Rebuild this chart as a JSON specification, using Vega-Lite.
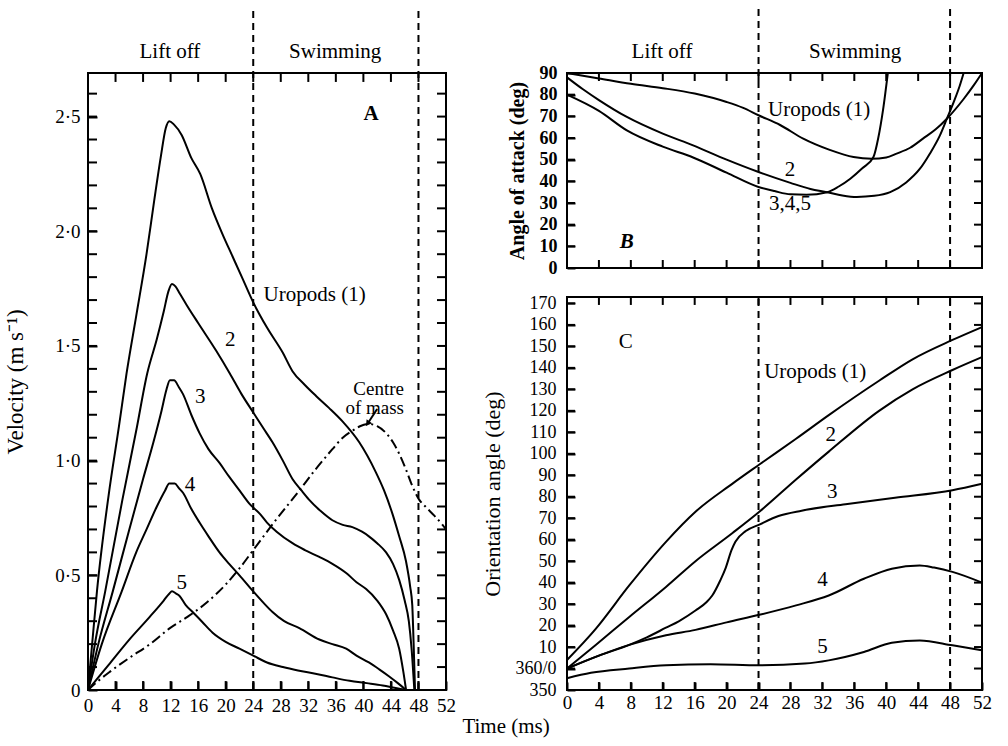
{
  "$schema": "https://vega.github.io/schema/vega-lite/v6.json",
  "background": "white",
  "padding": {"left": 3, "top": 7, "right": 10, "bottom": 6},
  "config": {
    "font": "Liberation Serif",
    "view": {"stroke": "black", "strokeWidth": 2},
    "axis": {"domain": false, "grid": false, "ticks": true, "tickColor": "#000000", "tickOpacity": 1, "tickWidth": 2, "tickSize": 8, "offset": -8, "zindex": 1, "labelColor": "black", "labelFont": "Liberation Serif", "labelFontSize": 19, "titleFont": "Liberation Serif", "titleFontSize": 21, "titleFontWeight": "normal", "titleColor": "black", "labelFlush": false, "labelOverlap": false, "labelBound": false},
    "text": {"font": "Liberation Serif", "fontSize": 21, "color": "black", "baseline": "middle"},
    "line": {"color": "black", "strokeWidth": 2},
    "rule": {"color": "black", "strokeWidth": 2}
  },
  "title": {"text": "Time (ms)", "orient": "bottom", "anchor": "middle", "font": "Liberation Serif", "fontSize": 21, "fontWeight": "normal", "color": "black", "offset": 0, "dx": 8},
  "datasets": {
    "A": [
      {"s": "1", "t": 0, "v": 0}, {"s": "1", "t": 0.6, "v": 0.2}, {"s": "1", "t": 1.3, "v": 0.43}, {"s": "1", "t": 3, "v": 0.85}, {"s": "1", "t": 4.5, "v": 1.15}, {"s": "1", "t": 5.6, "v": 1.38}, {"s": "1", "t": 7, "v": 1.63}, {"s": "1", "t": 8.5, "v": 1.9}, {"s": "1", "t": 9.6, "v": 2.13}, {"s": "1", "t": 10.6, "v": 2.33}, {"s": "1", "t": 11.3, "v": 2.45}, {"s": "1", "t": 11.8, "v": 2.48}, {"s": "1", "t": 12.5, "v": 2.465}, {"s": "1", "t": 13.6, "v": 2.42}, {"s": "1", "t": 15, "v": 2.32}, {"s": "1", "t": 16.3, "v": 2.25}, {"s": "1", "t": 18, "v": 2.1}, {"s": "1", "t": 19.5, "v": 1.99}, {"s": "1", "t": 21, "v": 1.89}, {"s": "1", "t": 22.5, "v": 1.79}, {"s": "1", "t": 24, "v": 1.69}, {"s": "1", "t": 26, "v": 1.58}, {"s": "1", "t": 28.3, "v": 1.47}, {"s": "1", "t": 29.7, "v": 1.39}, {"s": "1", "t": 31.5, "v": 1.33}, {"s": "1", "t": 33.2, "v": 1.28}, {"s": "1", "t": 35, "v": 1.23}, {"s": "1", "t": 37, "v": 1.17}, {"s": "1", "t": 39.4, "v": 1.08}, {"s": "1", "t": 41.8, "v": 0.95}, {"s": "1", "t": 43, "v": 0.87}, {"s": "1", "t": 44.2, "v": 0.77}, {"s": "1", "t": 45.2, "v": 0.67}, {"s": "1", "t": 46.2, "v": 0.56}, {"s": "1", "t": 46.8, "v": 0.45}, {"s": "1", "t": 47.1, "v": 0.37}, {"s": "1", "t": 47.3, "v": 0.2}, {"s": "1", "t": 47.5, "v": 0},
      {"s": "2", "t": 0, "v": 0}, {"s": "2", "t": 1, "v": 0.2}, {"s": "2", "t": 2.5, "v": 0.43}, {"s": "2", "t": 5, "v": 0.83}, {"s": "2", "t": 7, "v": 1.13}, {"s": "2", "t": 8.6, "v": 1.38}, {"s": "2", "t": 10, "v": 1.53}, {"s": "2", "t": 11, "v": 1.65}, {"s": "2", "t": 11.7, "v": 1.74}, {"s": "2", "t": 12.2, "v": 1.77}, {"s": "2", "t": 12.7, "v": 1.76}, {"s": "2", "t": 13.3, "v": 1.73}, {"s": "2", "t": 14.3, "v": 1.68}, {"s": "2", "t": 16, "v": 1.6}, {"s": "2", "t": 18.6, "v": 1.48}, {"s": "2", "t": 20.6, "v": 1.38}, {"s": "2", "t": 22.3, "v": 1.29}, {"s": "2", "t": 24, "v": 1.21}, {"s": "2", "t": 25.5, "v": 1.14}, {"s": "2", "t": 26.8, "v": 1.08}, {"s": "2", "t": 28.3, "v": 1.0}, {"s": "2", "t": 29.7, "v": 0.92}, {"s": "2", "t": 31, "v": 0.87}, {"s": "2", "t": 32.1, "v": 0.83}, {"s": "2", "t": 33.8, "v": 0.78}, {"s": "2", "t": 35.5, "v": 0.74}, {"s": "2", "t": 37, "v": 0.72}, {"s": "2", "t": 38.4, "v": 0.71}, {"s": "2", "t": 39.8, "v": 0.69}, {"s": "2", "t": 40.8, "v": 0.67}, {"s": "2", "t": 42, "v": 0.64}, {"s": "2", "t": 43.3, "v": 0.6}, {"s": "2", "t": 44.3, "v": 0.55}, {"s": "2", "t": 45.2, "v": 0.48}, {"s": "2", "t": 46, "v": 0.39}, {"s": "2", "t": 46.6, "v": 0.3}, {"s": "2", "t": 47, "v": 0.18}, {"s": "2", "t": 47.4, "v": 0},
      {"s": "3", "t": 0, "v": 0}, {"s": "3", "t": 1.5, "v": 0.2}, {"s": "3", "t": 3.6, "v": 0.43}, {"s": "3", "t": 6, "v": 0.7}, {"s": "3", "t": 8, "v": 0.92}, {"s": "3", "t": 9.5, "v": 1.08}, {"s": "3", "t": 10.7, "v": 1.22}, {"s": "3", "t": 11.4, "v": 1.31}, {"s": "3", "t": 11.9, "v": 1.35}, {"s": "3", "t": 12.5, "v": 1.35}, {"s": "3", "t": 13.2, "v": 1.32}, {"s": "3", "t": 13.8, "v": 1.29}, {"s": "3", "t": 15, "v": 1.2}, {"s": "3", "t": 16.2, "v": 1.12}, {"s": "3", "t": 17.5, "v": 1.05}, {"s": "3", "t": 19.1, "v": 0.99}, {"s": "3", "t": 20.5, "v": 0.93}, {"s": "3", "t": 22, "v": 0.87}, {"s": "3", "t": 23.5, "v": 0.81}, {"s": "3", "t": 24.9, "v": 0.77}, {"s": "3", "t": 26, "v": 0.73}, {"s": "3", "t": 27.4, "v": 0.69}, {"s": "3", "t": 29.7, "v": 0.64}, {"s": "3", "t": 31.5, "v": 0.61}, {"s": "3", "t": 33.6, "v": 0.58}, {"s": "3", "t": 35.5, "v": 0.55}, {"s": "3", "t": 37.5, "v": 0.51}, {"s": "3", "t": 39, "v": 0.47}, {"s": "3", "t": 40.4, "v": 0.44}, {"s": "3", "t": 42, "v": 0.39}, {"s": "3", "t": 43.3, "v": 0.33}, {"s": "3", "t": 44.3, "v": 0.26}, {"s": "3", "t": 45.2, "v": 0.18}, {"s": "3", "t": 45.8, "v": 0.08}, {"s": "3", "t": 46.2, "v": 0},
      {"s": "4", "t": 0, "v": 0}, {"s": "4", "t": 2, "v": 0.2}, {"s": "4", "t": 4.9, "v": 0.43}, {"s": "4", "t": 7, "v": 0.6}, {"s": "4", "t": 8.5, "v": 0.7}, {"s": "4", "t": 10, "v": 0.8}, {"s": "4", "t": 11.2, "v": 0.87}, {"s": "4", "t": 11.8, "v": 0.9}, {"s": "4", "t": 12.6, "v": 0.9}, {"s": "4", "t": 13.2, "v": 0.88}, {"s": "4", "t": 13.8, "v": 0.86}, {"s": "4", "t": 15, "v": 0.79}, {"s": "4", "t": 16.2, "v": 0.73}, {"s": "4", "t": 17.5, "v": 0.67}, {"s": "4", "t": 19.1, "v": 0.6}, {"s": "4", "t": 20.5, "v": 0.55}, {"s": "4", "t": 22, "v": 0.5}, {"s": "4", "t": 24, "v": 0.43}, {"s": "4", "t": 25.5, "v": 0.38}, {"s": "4", "t": 26.8, "v": 0.34}, {"s": "4", "t": 28.5, "v": 0.3}, {"s": "4", "t": 30.7, "v": 0.27}, {"s": "4", "t": 33.6, "v": 0.22}, {"s": "4", "t": 35.5, "v": 0.2}, {"s": "4", "t": 37.5, "v": 0.18}, {"s": "4", "t": 39, "v": 0.15}, {"s": "4", "t": 40.8, "v": 0.12}, {"s": "4", "t": 42.3, "v": 0.09}, {"s": "4", "t": 43.7, "v": 0.06}, {"s": "4", "t": 45, "v": 0.03}, {"s": "4", "t": 46.2, "v": 0},
      {"s": "5", "t": 0, "v": 0}, {"s": "5", "t": 3, "v": 0.11}, {"s": "5", "t": 6, "v": 0.22}, {"s": "5", "t": 9, "v": 0.32}, {"s": "5", "t": 11, "v": 0.39}, {"s": "5", "t": 11.8, "v": 0.42}, {"s": "5", "t": 12.2, "v": 0.43}, {"s": "5", "t": 12.8, "v": 0.42}, {"s": "5", "t": 13.3, "v": 0.41}, {"s": "5", "t": 14.2, "v": 0.37}, {"s": "5", "t": 15.2, "v": 0.34}, {"s": "5", "t": 16.5, "v": 0.3}, {"s": "5", "t": 18.1, "v": 0.25}, {"s": "5", "t": 20, "v": 0.21}, {"s": "5", "t": 22, "v": 0.18}, {"s": "5", "t": 24, "v": 0.15}, {"s": "5", "t": 26, "v": 0.12}, {"s": "5", "t": 28.3, "v": 0.1}, {"s": "5", "t": 30.5, "v": 0.085}, {"s": "5", "t": 33.2, "v": 0.07}, {"s": "5", "t": 35.5, "v": 0.055}, {"s": "5", "t": 38, "v": 0.04}, {"s": "5", "t": 40.5, "v": 0.03}, {"s": "5", "t": 42.8, "v": 0.02}, {"s": "5", "t": 44.5, "v": 0.01}, {"s": "5", "t": 46.2, "v": 0},
      {"s": "cm", "t": 0, "v": 0}, {"s": "cm", "t": 1.3, "v": 0.035}, {"s": "cm", "t": 3.2, "v": 0.08}, {"s": "cm", "t": 6, "v": 0.14}, {"s": "cm", "t": 9, "v": 0.2}, {"s": "cm", "t": 11.9, "v": 0.27}, {"s": "cm", "t": 14.5, "v": 0.32}, {"s": "cm", "t": 17.2, "v": 0.38}, {"s": "cm", "t": 20, "v": 0.46}, {"s": "cm", "t": 22, "v": 0.53}, {"s": "cm", "t": 24, "v": 0.61}, {"s": "cm", "t": 27, "v": 0.73}, {"s": "cm", "t": 30.7, "v": 0.87}, {"s": "cm", "t": 33, "v": 0.96}, {"s": "cm", "t": 35.5, "v": 1.05}, {"s": "cm", "t": 37, "v": 1.1}, {"s": "cm", "t": 38.4, "v": 1.13}, {"s": "cm", "t": 39.5, "v": 1.15}, {"s": "cm", "t": 40.8, "v": 1.16}, {"s": "cm", "t": 42, "v": 1.15}, {"s": "cm", "t": 43.3, "v": 1.12}, {"s": "cm", "t": 44.3, "v": 1.08}, {"s": "cm", "t": 45.2, "v": 1.03}, {"s": "cm", "t": 46.2, "v": 0.96}, {"s": "cm", "t": 47.1, "v": 0.89}, {"s": "cm", "t": 48.1, "v": 0.83}, {"s": "cm", "t": 49, "v": 0.8}, {"s": "cm", "t": 50.3, "v": 0.76}, {"s": "cm", "t": 51.5, "v": 0.72}, {"s": "cm", "t": 52, "v": 0.7}
    ],
    "B": [
      {"s": "1", "t": 0, "a": 90}, {"s": "1", "t": 4, "a": 87.5}, {"s": "1", "t": 8, "a": 85}, {"s": "1", "t": 12, "a": 83}, {"s": "1", "t": 16, "a": 80.5}, {"s": "1", "t": 20, "a": 76.6}, {"s": "1", "t": 22, "a": 74}, {"s": "1", "t": 24, "a": 70.5}, {"s": "1", "t": 26.7, "a": 66}, {"s": "1", "t": 29.6, "a": 59.7}, {"s": "1", "t": 33, "a": 54.4}, {"s": "1", "t": 35.9, "a": 51.2}, {"s": "1", "t": 38.2, "a": 50.4}, {"s": "1", "t": 40, "a": 51}, {"s": "1", "t": 41.3, "a": 52.8}, {"s": "1", "t": 43, "a": 55.5}, {"s": "1", "t": 44.6, "a": 59.7}, {"s": "1", "t": 46.2, "a": 64}, {"s": "1", "t": 47.6, "a": 68.9}, {"s": "1", "t": 49.7, "a": 78}, {"s": "1", "t": 51, "a": 84.5}, {"s": "1", "t": 52, "a": 90},
      {"s": "2", "t": 0, "a": 88}, {"s": "2", "t": 2, "a": 82.5}, {"s": "2", "t": 4, "a": 77.5}, {"s": "2", "t": 7.5, "a": 69.7}, {"s": "2", "t": 12, "a": 62}, {"s": "2", "t": 15.8, "a": 56.6}, {"s": "2", "t": 20, "a": 50}, {"s": "2", "t": 24, "a": 44.3}, {"s": "2", "t": 28, "a": 39.3}, {"s": "2", "t": 30.5, "a": 36.5}, {"s": "2", "t": 32.6, "a": 35}, {"s": "2", "t": 34.5, "a": 33.5}, {"s": "2", "t": 36.3, "a": 32.8}, {"s": "2", "t": 38.5, "a": 33.3}, {"s": "2", "t": 40.5, "a": 35}, {"s": "2", "t": 42.5, "a": 39.5}, {"s": "2", "t": 44.2, "a": 45.7}, {"s": "2", "t": 45.5, "a": 53}, {"s": "2", "t": 46.7, "a": 61}, {"s": "2", "t": 47.6, "a": 68.9}, {"s": "2", "t": 48.5, "a": 77}, {"s": "2", "t": 49.2, "a": 84}, {"s": "2", "t": 49.7, "a": 90},
      {"s": "345", "t": 0, "a": 80}, {"s": "345", "t": 4, "a": 72.5}, {"s": "345", "t": 7.5, "a": 63.5}, {"s": "345", "t": 12, "a": 56}, {"s": "345", "t": 15.8, "a": 51}, {"s": "345", "t": 20, "a": 44}, {"s": "345", "t": 24, "a": 37.4}, {"s": "345", "t": 26, "a": 35.5}, {"s": "345", "t": 28, "a": 34}, {"s": "345", "t": 30, "a": 33.8}, {"s": "345", "t": 32.6, "a": 35}, {"s": "345", "t": 34, "a": 37.5}, {"s": "345", "t": 35.5, "a": 41.2}, {"s": "345", "t": 37, "a": 46}, {"s": "345", "t": 38.4, "a": 51.2}, {"s": "345", "t": 39, "a": 60}, {"s": "345", "t": 39.6, "a": 73}, {"s": "345", "t": 40.2, "a": 90}
    ],
    "C": [
      {"s": "1", "t": 0, "a": 4}, {"s": "1", "t": 3.6, "a": 18.5}, {"s": "1", "t": 7.8, "a": 38.7}, {"s": "1", "t": 12.4, "a": 59}, {"s": "1", "t": 16.1, "a": 73}, {"s": "1", "t": 20.7, "a": 86}, {"s": "1", "t": 24.1, "a": 95}, {"s": "1", "t": 28.7, "a": 107}, {"s": "1", "t": 32.8, "a": 118}, {"s": "1", "t": 39.1, "a": 134}, {"s": "1", "t": 43.3, "a": 144}, {"s": "1", "t": 48.3, "a": 153}, {"s": "1", "t": 52, "a": 159},
      {"s": "2", "t": 0, "a": 0}, {"s": "2", "t": 3.6, "a": 11}, {"s": "2", "t": 7.8, "a": 24}, {"s": "2", "t": 12.4, "a": 38}, {"s": "2", "t": 16.1, "a": 50}, {"s": "2", "t": 20.7, "a": 63}, {"s": "2", "t": 24.1, "a": 73}, {"s": "2", "t": 28.7, "a": 88}, {"s": "2", "t": 32.8, "a": 101}, {"s": "2", "t": 39.1, "a": 120}, {"s": "2", "t": 43.3, "a": 130}, {"s": "2", "t": 48.3, "a": 139}, {"s": "2", "t": 52, "a": 145},
      {"s": "3", "t": 0, "a": 0}, {"s": "3", "t": 4, "a": 6}, {"s": "3", "t": 7.8, "a": 11}, {"s": "3", "t": 10, "a": 14.5}, {"s": "3", "t": 12.4, "a": 19}, {"s": "3", "t": 14, "a": 22}, {"s": "3", "t": 16.1, "a": 27}, {"s": "3", "t": 17.5, "a": 31}, {"s": "3", "t": 18.2, "a": 34}, {"s": "3", "t": 19.2, "a": 41}, {"s": "3", "t": 19.9, "a": 47}, {"s": "3", "t": 20.6, "a": 55}, {"s": "3", "t": 21.1, "a": 59}, {"s": "3", "t": 22.4, "a": 64}, {"s": "3", "t": 24.1, "a": 67}, {"s": "3", "t": 26.5, "a": 71}, {"s": "3", "t": 29.4, "a": 73.5}, {"s": "3", "t": 34.9, "a": 76.5}, {"s": "3", "t": 41.1, "a": 79.5}, {"s": "3", "t": 48.3, "a": 83}, {"s": "3", "t": 52, "a": 86},
      {"s": "4", "t": 0, "a": 0}, {"s": "4", "t": 4, "a": 6}, {"s": "4", "t": 7.8, "a": 11}, {"s": "4", "t": 12.4, "a": 15.5}, {"s": "4", "t": 16.1, "a": 18}, {"s": "4", "t": 20, "a": 21.5}, {"s": "4", "t": 24.1, "a": 25}, {"s": "4", "t": 28.7, "a": 29.4}, {"s": "4", "t": 32.8, "a": 34}, {"s": "4", "t": 37.2, "a": 41.8}, {"s": "4", "t": 40.7, "a": 46.5}, {"s": "4", "t": 44.2, "a": 48}, {"s": "4", "t": 46, "a": 47}, {"s": "4", "t": 48.3, "a": 45}, {"s": "4", "t": 52, "a": 40},
      {"s": "5", "t": 0, "a": -4.5}, {"s": "5", "t": 3, "a": -2}, {"s": "5", "t": 7.8, "a": 0}, {"s": "5", "t": 12.4, "a": 1.5}, {"s": "5", "t": 18, "a": 2}, {"s": "5", "t": 24.1, "a": 1.5}, {"s": "5", "t": 29.8, "a": 2.3}, {"s": "5", "t": 32.8, "a": 3.8}, {"s": "5", "t": 37.2, "a": 7.7}, {"s": "5", "t": 40.7, "a": 12}, {"s": "5", "t": 44.2, "a": 13.1}, {"s": "5", "t": 48.3, "a": 10.8}, {"s": "5", "t": 52, "a": 8.5}
    ],
    "tickAx": [
      {"t": 4, "y1": 0, "y2": 0.039}, {"t": 8, "y1": 0, "y2": 0.039}, {"t": 12, "y1": 0, "y2": 0.039}, {"t": 16, "y1": 0, "y2": 0.039}, {"t": 20, "y1": 0, "y2": 0.039}, {"t": 24, "y1": 0, "y2": 0.039}, {"t": 28, "y1": 0, "y2": 0.039}, {"t": 32, "y1": 0, "y2": 0.039}, {"t": 36, "y1": 0, "y2": 0.039}, {"t": 40, "y1": 0, "y2": 0.039}, {"t": 44, "y1": 0, "y2": 0.039}, {"t": 48, "y1": 0, "y2": 0.039},
      {"t": 4, "y1": 2.69, "y2": 2.651}, {"t": 8, "y1": 2.69, "y2": 2.651}, {"t": 12, "y1": 2.69, "y2": 2.651}, {"t": 16, "y1": 2.69, "y2": 2.651}, {"t": 20, "y1": 2.69, "y2": 2.651}, {"t": 24, "y1": 2.69, "y2": 2.651}, {"t": 28, "y1": 2.69, "y2": 2.651}, {"t": 32, "y1": 2.69, "y2": 2.651}, {"t": 36, "y1": 2.69, "y2": 2.651}, {"t": 40, "y1": 2.69, "y2": 2.651}, {"t": 44, "y1": 2.69, "y2": 2.651}, {"t": 48, "y1": 2.69, "y2": 2.651}
    ],
    "tickAy": [
      {"v": 0.1, "x1": 0, "x2": 1.31}, {"v": 0.2, "x1": 0, "x2": 1.31}, {"v": 0.3, "x1": 0, "x2": 1.31}, {"v": 0.4, "x1": 0, "x2": 1.31}, {"v": 0.5, "x1": 0, "x2": 1.31}, {"v": 0.6, "x1": 0, "x2": 1.31}, {"v": 0.7, "x1": 0, "x2": 1.31}, {"v": 0.8, "x1": 0, "x2": 1.31}, {"v": 0.9, "x1": 0, "x2": 1.31}, {"v": 1.0, "x1": 0, "x2": 1.31}, {"v": 1.1, "x1": 0, "x2": 1.31}, {"v": 1.2, "x1": 0, "x2": 1.31}, {"v": 1.3, "x1": 0, "x2": 1.31}, {"v": 1.4, "x1": 0, "x2": 1.31}, {"v": 1.5, "x1": 0, "x2": 1.31}, {"v": 1.6, "x1": 0, "x2": 1.31}, {"v": 1.7, "x1": 0, "x2": 1.31}, {"v": 1.8, "x1": 0, "x2": 1.31}, {"v": 1.9, "x1": 0, "x2": 1.31}, {"v": 2.0, "x1": 0, "x2": 1.31}, {"v": 2.1, "x1": 0, "x2": 1.31}, {"v": 2.2, "x1": 0, "x2": 1.31}, {"v": 2.3, "x1": 0, "x2": 1.31}, {"v": 2.4, "x1": 0, "x2": 1.31}, {"v": 2.5, "x1": 0, "x2": 1.31}, {"v": 2.6, "x1": 0, "x2": 1.31},
      {"v": 0.1, "x1": 52, "x2": 50.69}, {"v": 0.2, "x1": 52, "x2": 50.69}, {"v": 0.3, "x1": 52, "x2": 50.69}, {"v": 0.4, "x1": 52, "x2": 50.69}, {"v": 0.5, "x1": 52, "x2": 50.69}, {"v": 0.6, "x1": 52, "x2": 50.69}, {"v": 0.7, "x1": 52, "x2": 50.69}, {"v": 0.8, "x1": 52, "x2": 50.69}, {"v": 0.9, "x1": 52, "x2": 50.69}, {"v": 1.0, "x1": 52, "x2": 50.69}, {"v": 1.1, "x1": 52, "x2": 50.69}, {"v": 1.2, "x1": 52, "x2": 50.69}, {"v": 1.3, "x1": 52, "x2": 50.69}, {"v": 1.4, "x1": 52, "x2": 50.69}, {"v": 1.5, "x1": 52, "x2": 50.69}, {"v": 1.6, "x1": 52, "x2": 50.69}, {"v": 1.7, "x1": 52, "x2": 50.69}, {"v": 1.8, "x1": 52, "x2": 50.69}, {"v": 1.9, "x1": 52, "x2": 50.69}, {"v": 2.0, "x1": 52, "x2": 50.69}, {"v": 2.1, "x1": 52, "x2": 50.69}, {"v": 2.2, "x1": 52, "x2": 50.69}, {"v": 2.3, "x1": 52, "x2": 50.69}, {"v": 2.4, "x1": 52, "x2": 50.69}, {"v": 2.5, "x1": 52, "x2": 50.69}, {"v": 2.6, "x1": 52, "x2": 50.69}
    ],
    "tickBx": [
      {"t": 4, "y1": 0, "y2": 3.7}, {"t": 8, "y1": 0, "y2": 3.7}, {"t": 12, "y1": 0, "y2": 3.7}, {"t": 16, "y1": 0, "y2": 3.7}, {"t": 20, "y1": 0, "y2": 3.7}, {"t": 24, "y1": 0, "y2": 3.7}, {"t": 28, "y1": 0, "y2": 3.7}, {"t": 32, "y1": 0, "y2": 3.7}, {"t": 36, "y1": 0, "y2": 3.7}, {"t": 40, "y1": 0, "y2": 3.7}, {"t": 44, "y1": 0, "y2": 3.7}, {"t": 48, "y1": 0, "y2": 3.7},
      {"t": 4, "y1": 90, "y2": 86.3}, {"t": 8, "y1": 90, "y2": 86.3}, {"t": 12, "y1": 90, "y2": 86.3}, {"t": 16, "y1": 90, "y2": 86.3}, {"t": 20, "y1": 90, "y2": 86.3}, {"t": 24, "y1": 90, "y2": 86.3}, {"t": 28, "y1": 90, "y2": 86.3}, {"t": 32, "y1": 90, "y2": 86.3}, {"t": 36, "y1": 90, "y2": 86.3}, {"t": 40, "y1": 90, "y2": 86.3}, {"t": 44, "y1": 90, "y2": 86.3}, {"t": 48, "y1": 90, "y2": 86.3}
    ],
    "tickBy": [
      {"a": 10, "x1": 0, "x2": 1}, {"a": 20, "x1": 0, "x2": 1}, {"a": 30, "x1": 0, "x2": 1}, {"a": 40, "x1": 0, "x2": 1}, {"a": 50, "x1": 0, "x2": 1}, {"a": 60, "x1": 0, "x2": 1}, {"a": 70, "x1": 0, "x2": 1}, {"a": 80, "x1": 0, "x2": 1},
      {"a": 10, "x1": 52, "x2": 51}, {"a": 20, "x1": 52, "x2": 51}, {"a": 30, "x1": 52, "x2": 51}, {"a": 40, "x1": 52, "x2": 51}, {"a": 50, "x1": 52, "x2": 51}, {"a": 60, "x1": 52, "x2": 51}, {"a": 70, "x1": 52, "x2": 51}, {"a": 80, "x1": 52, "x2": 51}
    ],
    "tickCx": [
      {"t": 4, "y1": -10, "y2": -6.3}, {"t": 8, "y1": -10, "y2": -6.3}, {"t": 12, "y1": -10, "y2": -6.3}, {"t": 16, "y1": -10, "y2": -6.3}, {"t": 20, "y1": -10, "y2": -6.3}, {"t": 24, "y1": -10, "y2": -6.3}, {"t": 28, "y1": -10, "y2": -6.3}, {"t": 32, "y1": -10, "y2": -6.3}, {"t": 36, "y1": -10, "y2": -6.3}, {"t": 40, "y1": -10, "y2": -6.3}, {"t": 44, "y1": -10, "y2": -6.3}, {"t": 48, "y1": -10, "y2": -6.3},
      {"t": 4, "y1": 173, "y2": 169.3}, {"t": 8, "y1": 173, "y2": 169.3}, {"t": 12, "y1": 173, "y2": 169.3}, {"t": 16, "y1": 173, "y2": 169.3}, {"t": 20, "y1": 173, "y2": 169.3}, {"t": 24, "y1": 173, "y2": 169.3}, {"t": 28, "y1": 173, "y2": 169.3}, {"t": 32, "y1": 173, "y2": 169.3}, {"t": 36, "y1": 173, "y2": 169.3}, {"t": 40, "y1": 173, "y2": 169.3}, {"t": 44, "y1": 173, "y2": 169.3}, {"t": 48, "y1": 173, "y2": 169.3}
    ],
    "tickCy": [
      {"a": 0, "x1": 0, "x2": 1}, {"a": 10, "x1": 0, "x2": 1}, {"a": 20, "x1": 0, "x2": 1}, {"a": 30, "x1": 0, "x2": 1}, {"a": 40, "x1": 0, "x2": 1}, {"a": 50, "x1": 0, "x2": 1}, {"a": 60, "x1": 0, "x2": 1}, {"a": 70, "x1": 0, "x2": 1}, {"a": 80, "x1": 0, "x2": 1}, {"a": 90, "x1": 0, "x2": 1}, {"a": 100, "x1": 0, "x2": 1}, {"a": 110, "x1": 0, "x2": 1}, {"a": 120, "x1": 0, "x2": 1}, {"a": 130, "x1": 0, "x2": 1}, {"a": 140, "x1": 0, "x2": 1}, {"a": 150, "x1": 0, "x2": 1}, {"a": 160, "x1": 0, "x2": 1}, {"a": 170, "x1": 0, "x2": 1},
      {"a": 0, "x1": 52, "x2": 51}, {"a": 10, "x1": 52, "x2": 51}, {"a": 20, "x1": 52, "x2": 51}, {"a": 30, "x1": 52, "x2": 51}, {"a": 40, "x1": 52, "x2": 51}, {"a": 50, "x1": 52, "x2": 51}, {"a": 60, "x1": 52, "x2": 51}, {"a": 70, "x1": 52, "x2": 51}, {"a": 80, "x1": 52, "x2": 51}, {"a": 90, "x1": 52, "x2": 51}, {"a": 100, "x1": 52, "x2": 51}, {"a": 110, "x1": 52, "x2": 51}, {"a": 120, "x1": 52, "x2": 51}, {"a": 130, "x1": 52, "x2": 51}, {"a": 140, "x1": 52, "x2": 51}, {"a": 150, "x1": 52, "x2": 51}, {"a": 160, "x1": 52, "x2": 51}, {"a": 170, "x1": 52, "x2": 51}
    ],
    "dashA": [{"t": 24, "y1": 0, "y2": 2.969}, {"t": 48, "y1": 0, "y2": 2.969}],
    "dashB": [{"t": 24, "y1": 0, "y2": 119.5}, {"t": 48, "y1": 0, "y2": 119.5}],
    "dashC": [{"t": 24, "y1": -10, "y2": 173}, {"t": 48, "y1": -10, "y2": 173}],
    "labA": [{"t": 11.9, "v": 2.781, "txt": "Lift off"}, {"t": 35.9, "v": 2.781, "txt": "Swimming"}, {"t": 20.65, "v": 1.524, "txt": "2"}, {"t": 16.3, "v": 1.277, "txt": "3"}, {"t": 14.8, "v": 0.892, "txt": "4"}, {"t": 13.6, "v": 0.468, "txt": "5"}],
    "labAleft": [{"t": 25.5, "v": 1.72, "txt": "Uropods (1)"}],
    "labAright": [{"t": 45.9, "v": 1.312, "txt": ["Centre", "of mass"]}],
    "labAbold": [{"t": 41.1, "v": 2.512, "txt": "A"}],
    "arrowA": [{"t": 42, "v": 1.225, "t2": 40.7, "v2": 1.165}],
    "labB": [{"t": 11.9, "a": 99.7, "txt": "Lift off"}, {"t": 36.1, "a": 99.7, "txt": "Swimming"}, {"t": 27.95, "a": 45.1, "txt": "2"}, {"t": 27.95, "a": 29.7, "txt": "3,4,5"}],
    "labBleft": [{"t": 25.2, "a": 72.8, "txt": "Uropods (1)"}],
    "labBbold": [{"t": 7.5, "a": 12, "txt": "B"}],
    "labC": [{"t": 7.36, "a": 152, "txt": "C"}, {"t": 33.05, "a": 108.6, "txt": "2"}, {"t": 33.25, "a": 82.2, "txt": "3"}, {"t": 32, "a": 41.1, "txt": "4"}, {"t": 32, "a": 10, "txt": "5"}],
    "labCleft": [{"t": 24.7, "a": 138.1, "txt": "Uropods (1)"}]
  },
  "bounds": "flush",
  "spacing": 121,
  "hconcat": [
    {
      "width": 358,
      "height": 617,
      "resolve": {"axis": {"x": "independent", "y": "independent"}},
      "layer": [
        {
          "data": {"name": "A"},
          "transform": [{"filter": "datum.s != 'cm'"}],
          "mark": {"type": "line", "interpolate": "monotone", "strokeWidth": 2, "color": "black"},
          "encoding": {
            "x": {"field": "t", "type": "quantitative", "scale": {"domain": [0, 52], "nice": false, "zero": false}, "axis": {"orient": "bottom", "values": [0, 4, 8, 12, 16, 20, 24, 28, 32, 36, 40, 44, 48, 52], "format": "d", "title": null, "labelOverlap": false, "offset": -9, "tickSize": 9, "labelPadding": 6}},
            "y": {"field": "v", "type": "quantitative", "scale": {"domain": [0, 2.69], "nice": false, "zero": false}, "axis": {"orient": "left", "values": [0, 0.5, 1, 1.5, 2, 2.5], "labelExpr": "datum.value == 0 ? '0' : replace(format(datum.value, '.1f'), '.', '·')", "labelOverlap": false, "offset": -9, "tickSize": 9, "labelPadding": 8, "title": "Velocity (m s⁻¹)", "titleFontSize": 23, "titlePadding": 27}},
            "detail": {"field": "s"}
          }
        },
        {
          "data": {"name": "A"},
          "transform": [{"filter": "datum.s == 'cm'"}],
          "mark": {"type": "line", "interpolate": "monotone", "strokeWidth": 2, "strokeDash": [10, 4, 2, 4], "color": "black"},
          "encoding": {
            "x": {"field": "t", "type": "quantitative", "scale": {"domain": [0, 52], "nice": false, "zero": false}, "axis": null},
            "y": {"field": "v", "type": "quantitative", "scale": {"domain": [0, 2.69], "nice": false, "zero": false}, "axis": null}
          }
        },
        {
          "data": {"name": "tickAx"},
          "mark": {"type": "rule", "strokeWidth": 2, "color": "black"},
          "encoding": {
            "x": {"field": "t", "type": "quantitative", "scale": {"domain": [0, 52], "nice": false, "zero": false}, "axis": null},
            "y": {"field": "y1", "type": "quantitative", "scale": {"domain": [0, 2.69], "nice": false, "zero": false}, "axis": null},
            "y2": {"field": "y2"}
          }
        },
        {
          "data": {"name": "tickAy"},
          "mark": {"type": "rule", "strokeWidth": 2, "color": "black"},
          "encoding": {
            "x": {"field": "x1", "type": "quantitative", "scale": {"domain": [0, 52], "nice": false, "zero": false}, "axis": null},
            "x2": {"field": "x2"},
            "y": {"field": "v", "type": "quantitative", "scale": {"domain": [0, 2.69], "nice": false, "zero": false}, "axis": null}
          }
        },
        {
          "data": {"name": "dashA"},
          "mark": {"type": "rule", "strokeDash": [7, 5], "strokeWidth": 2, "color": "black"},
          "encoding": {
            "x": {"field": "t", "type": "quantitative", "scale": {"domain": [0, 52], "nice": false, "zero": false}, "axis": null},
            "y": {"field": "y1", "type": "quantitative", "scale": {"domain": [0, 2.69], "nice": false, "zero": false}, "axis": null},
            "y2": {"field": "y2"}
          }
        },
        {
          "data": {"name": "arrowA"},
          "mark": {"type": "rule", "strokeWidth": 2, "color": "black"},
          "encoding": {
            "x": {"field": "t", "type": "quantitative", "scale": {"domain": [0, 52], "nice": false, "zero": false}, "axis": null},
            "y": {"field": "v", "type": "quantitative", "scale": {"domain": [0, 2.69], "nice": false, "zero": false}, "axis": null},
            "x2": {"field": "t2"},
            "y2": {"field": "v2"}
          }
        },
        {
          "data": {"name": "arrowA"},
          "mark": {"type": "point", "shape": "triangle", "angle": 216, "size": 45, "filled": true, "color": "black", "opacity": 1},
          "encoding": {
            "x": {"field": "t2", "type": "quantitative", "scale": {"domain": [0, 52], "nice": false, "zero": false}, "axis": null},
            "y": {"field": "v2", "type": "quantitative", "scale": {"domain": [0, 2.69], "nice": false, "zero": false}, "axis": null}
          }
        },
        {
          "data": {"name": "labA"},
          "mark": {"type": "text", "align": "center"},
          "encoding": {
            "x": {"field": "t", "type": "quantitative", "scale": {"domain": [0, 52], "nice": false, "zero": false}, "axis": null},
            "y": {"field": "v", "type": "quantitative", "scale": {"domain": [0, 2.69], "nice": false, "zero": false}, "axis": null},
            "text": {"field": "txt"}
          }
        },
        {
          "data": {"name": "labAleft"},
          "mark": {"type": "text", "align": "left"},
          "encoding": {
            "x": {"field": "t", "type": "quantitative", "scale": {"domain": [0, 52], "nice": false, "zero": false}, "axis": null},
            "y": {"field": "v", "type": "quantitative", "scale": {"domain": [0, 2.69], "nice": false, "zero": false}, "axis": null},
            "text": {"field": "txt"}
          }
        },
        {
          "data": {"name": "labAright"},
          "mark": {"type": "text", "align": "right", "fontSize": 19, "lineHeight": 19},
          "encoding": {
            "x": {"field": "t", "type": "quantitative", "scale": {"domain": [0, 52], "nice": false, "zero": false}, "axis": null},
            "y": {"field": "v", "type": "quantitative", "scale": {"domain": [0, 2.69], "nice": false, "zero": false}, "axis": null},
            "text": {"field": "txt"}
          }
        },
        {
          "data": {"name": "labAbold"},
          "mark": {"type": "text", "align": "center", "fontWeight": "bold"},
          "encoding": {
            "x": {"field": "t", "type": "quantitative", "scale": {"domain": [0, 52], "nice": false, "zero": false}, "axis": null},
            "y": {"field": "v", "type": "quantitative", "scale": {"domain": [0, 2.69], "nice": false, "zero": false}, "axis": null},
            "text": {"field": "txt"}
          }
        }
      ]
    },
    {
      "bounds": "flush",
      "spacing": 29,
      "vconcat": [
        {
          "width": 415,
          "height": 195,
          "resolve": {"axis": {"x": "independent", "y": "independent"}},
          "layer": [
            {
              "data": {"name": "B"},
              "mark": {"type": "line", "interpolate": "monotone", "strokeWidth": 2, "color": "black"},
              "encoding": {
                "x": {"field": "t", "type": "quantitative", "scale": {"domain": [0, 52], "nice": false, "zero": false}, "axis": null},
                "y": {"field": "a", "type": "quantitative", "scale": {"domain": [0, 90], "nice": false, "zero": false}, "axis": {"orient": "left", "values": [0, 10, 20, 30, 40, 50, 60, 70, 80, 90], "format": "d", "labelOverlap": false, "labelFontSize": 18, "labelFontWeight": "bold", "labelPadding": 10, "title": "Angle of attack (deg)", "titleFontWeight": "bold", "titleFontSize": 20, "titlePadding": 12}},
                "detail": {"field": "s"}
              }
            },
            {
              "data": {"name": "tickBx"},
              "mark": {"type": "rule", "strokeWidth": 2, "color": "black"},
              "encoding": {
                "x": {"field": "t", "type": "quantitative", "scale": {"domain": [0, 52], "nice": false, "zero": false}, "axis": null},
                "y": {"field": "y1", "type": "quantitative", "scale": {"domain": [0, 90], "nice": false, "zero": false}, "axis": null},
                "y2": {"field": "y2"}
              }
            },
            {
              "data": {"name": "tickBy"},
              "mark": {"type": "rule", "strokeWidth": 2, "color": "black"},
              "encoding": {
                "x": {"field": "x1", "type": "quantitative", "scale": {"domain": [0, 52], "nice": false, "zero": false}, "axis": null},
                "x2": {"field": "x2"},
                "y": {"field": "a", "type": "quantitative", "scale": {"domain": [0, 90], "nice": false, "zero": false}, "axis": null}
              }
            },
            {
              "data": {"name": "dashB"},
              "mark": {"type": "rule", "strokeDash": [7, 5], "strokeWidth": 2, "color": "black"},
              "encoding": {
                "x": {"field": "t", "type": "quantitative", "scale": {"domain": [0, 52], "nice": false, "zero": false}, "axis": null},
                "y": {"field": "y1", "type": "quantitative", "scale": {"domain": [0, 90], "nice": false, "zero": false}, "axis": null},
                "y2": {"field": "y2"}
              }
            },
            {
              "data": {"name": "labB"},
              "mark": {"type": "text", "align": "center"},
              "encoding": {
                "x": {"field": "t", "type": "quantitative", "scale": {"domain": [0, 52], "nice": false, "zero": false}, "axis": null},
                "y": {"field": "a", "type": "quantitative", "scale": {"domain": [0, 90], "nice": false, "zero": false}, "axis": null},
                "text": {"field": "txt"}
              }
            },
            {
              "data": {"name": "labBleft"},
              "mark": {"type": "text", "align": "left"},
              "encoding": {
                "x": {"field": "t", "type": "quantitative", "scale": {"domain": [0, 52], "nice": false, "zero": false}, "axis": null},
                "y": {"field": "a", "type": "quantitative", "scale": {"domain": [0, 90], "nice": false, "zero": false}, "axis": null},
                "text": {"field": "txt"}
              }
            },
            {
              "data": {"name": "labBbold"},
              "mark": {"type": "text", "align": "center", "fontWeight": "bold", "fontStyle": "italic"},
              "encoding": {
                "x": {"field": "t", "type": "quantitative", "scale": {"domain": [0, 52], "nice": false, "zero": false}, "axis": null},
                "y": {"field": "a", "type": "quantitative", "scale": {"domain": [0, 90], "nice": false, "zero": false}, "axis": null},
                "text": {"field": "txt"}
              }
            }
          ]
        },
        {
          "width": 415,
          "height": 393,
          "resolve": {"axis": {"x": "independent", "y": "independent"}},
          "layer": [
            {
              "data": {"name": "C"},
              "mark": {"type": "line", "interpolate": "monotone", "strokeWidth": 2, "color": "black"},
              "encoding": {
                "x": {"field": "t", "type": "quantitative", "scale": {"domain": [0, 52], "nice": false, "zero": false}, "axis": {"orient": "bottom", "values": [0, 4, 8, 12, 16, 20, 24, 28, 32, 36, 40, 44, 48, 52], "format": "d", "title": null, "labelOverlap": false, "labelPadding": 3}},
                "y": {"field": "a", "type": "quantitative", "scale": {"domain": [-10, 173], "nice": false, "zero": false}, "axis": {"orient": "left", "values": [-10, 0, 10, 20, 30, 40, 50, 60, 70, 80, 90, 100, 110, 120, 130, 140, 150, 160, 170], "labelExpr": "datum.value < 0 ? '350' : (datum.value == 0 ? '360/0' : format(datum.value, 'd'))", "labelOverlap": false, "labelFontSize": 18, "labelPadding": 11, "title": "Orientation angle (deg)", "titleFontSize": 22, "titlePadding": 10}},
                "detail": {"field": "s"}
              }
            },
            {
              "data": {"name": "tickCx"},
              "mark": {"type": "rule", "strokeWidth": 2, "color": "black"},
              "encoding": {
                "x": {"field": "t", "type": "quantitative", "scale": {"domain": [0, 52], "nice": false, "zero": false}, "axis": null},
                "y": {"field": "y1", "type": "quantitative", "scale": {"domain": [-10, 173], "nice": false, "zero": false}, "axis": null},
                "y2": {"field": "y2"}
              }
            },
            {
              "data": {"name": "tickCy"},
              "mark": {"type": "rule", "strokeWidth": 2, "color": "black"},
              "encoding": {
                "x": {"field": "x1", "type": "quantitative", "scale": {"domain": [0, 52], "nice": false, "zero": false}, "axis": null},
                "x2": {"field": "x2"},
                "y": {"field": "a", "type": "quantitative", "scale": {"domain": [-10, 173], "nice": false, "zero": false}, "axis": null}
              }
            },
            {
              "data": {"name": "dashC"},
              "mark": {"type": "rule", "strokeDash": [7, 5], "strokeWidth": 2, "color": "black"},
              "encoding": {
                "x": {"field": "t", "type": "quantitative", "scale": {"domain": [0, 52], "nice": false, "zero": false}, "axis": null},
                "y": {"field": "y1", "type": "quantitative", "scale": {"domain": [-10, 173], "nice": false, "zero": false}, "axis": null},
                "y2": {"field": "y2"}
              }
            },
            {
              "data": {"name": "labC"},
              "mark": {"type": "text", "align": "center"},
              "encoding": {
                "x": {"field": "t", "type": "quantitative", "scale": {"domain": [0, 52], "nice": false, "zero": false}, "axis": null},
                "y": {"field": "a", "type": "quantitative", "scale": {"domain": [-10, 173], "nice": false, "zero": false}, "axis": null},
                "text": {"field": "txt"}
              }
            },
            {
              "data": {"name": "labCleft"},
              "mark": {"type": "text", "align": "left"},
              "encoding": {
                "x": {"field": "t", "type": "quantitative", "scale": {"domain": [0, 52], "nice": false, "zero": false}, "axis": null},
                "y": {"field": "a", "type": "quantitative", "scale": {"domain": [-10, 173], "nice": false, "zero": false}, "axis": null},
                "text": {"field": "txt"}
              }
            }
          ]
        }
      ]
    }
  ]
}
